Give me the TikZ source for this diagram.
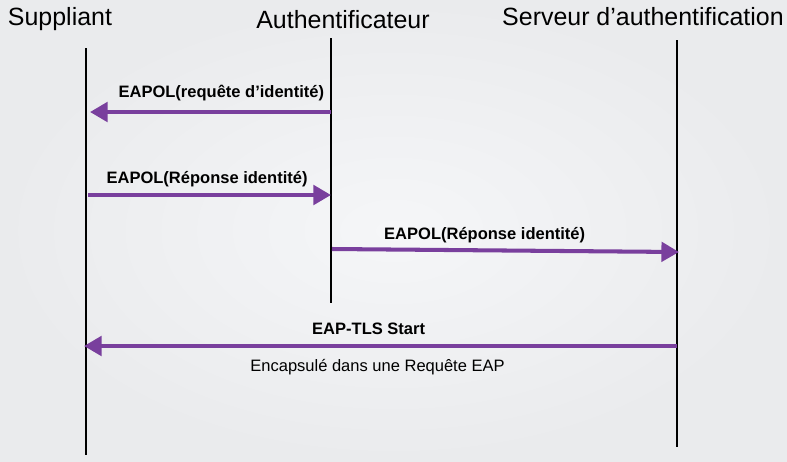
\documentclass[tikz,border=0pt]{standalone}
\usepackage{fontspec}
\setmainfont{Liberation Sans}
\usetikzlibrary{arrows.meta, positioning}
\definecolor{msgpurple}{RGB}{121,63,157}
\definecolor{bginner}{RGB}{245,246,248}
\definecolor{bgouter}{RGB}{234,235,237}
\begin{document}
\begin{tikzpicture}[
        x=0.02cm, y=-0.02cm,
        participant/.style={anchor=base, inner sep=0pt, font=\fontsize{14.2}{16}\selectfont},
        lifeline/.style={draw=black, line width=1.1pt},
        message/.style={-{Triangle[length=10pt, width=11pt]}, draw=msgpurple, line width=2.3pt},
        msglabel/.style={font=\fontsize{9.4}{11}\selectfont\bfseries},
        msgnote/.style={font=\fontsize{9.4}{11}\selectfont},
    ]
        \shade[inner color=bginner, outer color=bgouter] (0,0) rectangle (787,461);
        \useasboundingbox (0,0) rectangle (787,461);

        \node[participant] (sup) at (60,25) {Suppliant};
        \node[participant] (auth) at (343,28) {Authentificateur};
        \node[participant] (serv) at (643,25) {Serveur d’authentification};

        \coordinate (sup_top) at (86,48);
        \coordinate (sup_bot) at (86,455);
        \coordinate (auth_top) at (331,38);
        \coordinate (auth_bot) at (331,303);
        \coordinate (serv_top) at (677,40);
        \coordinate (serv_bot) at (677,447);

        \draw[lifeline] (sup_top) -- (sup_bot);
        \draw[lifeline] (auth_top) -- (auth_bot);
        \draw[lifeline] (serv_top) -- (serv_bot);

        \coordinate (auth_m1) at (331,112);
        \coordinate (sup_m1) at (90,112);
        \coordinate (sup_m2) at (88,195);
        \coordinate (auth_m2) at (331,195);
        \coordinate (auth_m3) at (332,249);
        \coordinate (serv_m3) at (679,252);
        \coordinate (serv_m4) at (677,346);
        \coordinate (sup_m4) at (84,346);

        \draw[message] (auth_m1) -- node[msglabel, above=2pt, pos=0.455] {EAPOL(requête d’identité)} (sup_m1);
        \draw[message] (sup_m2) -- node[msglabel, above, pos=0.49] {EAPOL(Réponse identité)} (auth_m2);
        \draw[message] (auth_m3) -- node[msglabel, above, pos=0.44] {EAPOL(Réponse identité)} (serv_m3);
        \draw[message] (serv_m4) -- node[msglabel, above=2pt, pos=0.52] {EAP-TLS Start}
            node[msgnote, below=3pt, pos=0.505] {Encapsulé dans une Requête EAP} (sup_m4);
    \end{tikzpicture}
\end{document}
